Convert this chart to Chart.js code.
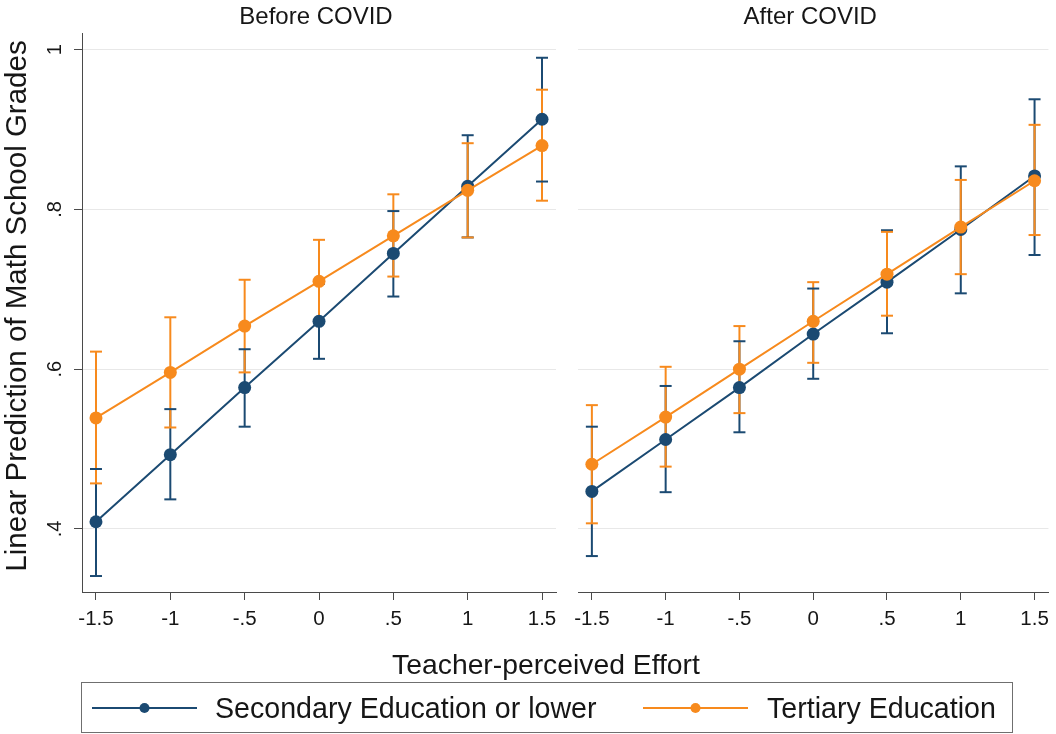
<!DOCTYPE html>
<html>
<head>
<meta charset="utf-8">
<script src="https://cdn.jsdelivr.net/npm/chart.js@4/dist/chart.umd.min.js"></script>
<style>
  html, body { margin: 0; padding: 0; background: #fff; }
  #wrap { position: relative; width: 1056px; height: 734px; overflow: hidden; background: #fff; }
  canvas { position: absolute; top: 0; }
  #panelBefore { left: 0; }
  #panelAfter { left: 566px; }
</style>
</head>
<body>
<div id="wrap">
  <canvas id="panelBefore" width="1056" height="734"></canvas>
  <canvas id="panelAfter" width="490" height="734"></canvas>
</div>
<script>
// Categories and tick labels
const effort = [-1.5, -1, -0.5, 0, 0.5, 1, 1.5];
const effortTickLabels = ['-1.5', '-1', '-.5', '0', '.5', '1', '1.5'];
const gradeTicks = [0.4, 0.6, 0.8, 1.0];
const gradeTickLabels = ['.4', '.6', '.8', '1'];
const seriesNames = ['Secondary Education or lower', 'Tertiary Education'];
const panelTitles = ['Before COVID', 'After COVID'];
const xTitle = 'Teacher-perceived Effort';
const yTitle = 'Linear Prediction of Math School Grades';

// Before COVID: predicted grades with 95% confidence bounds
const secBefore   = [0.409, 0.493, 0.577, 0.660, 0.745, 0.829, 0.913];
const secBeforeLo = [0.341, 0.437, 0.528, 0.613, 0.691, 0.765, 0.835];
const secBeforeHi = [0.475, 0.550, 0.625, 0.707, 0.798, 0.893, 0.990];
const terBefore   = [0.539, 0.596, 0.654, 0.710, 0.767, 0.824, 0.880];
const terBeforeLo = [0.457, 0.527, 0.596, 0.658, 0.716, 0.765, 0.811];
const terBeforeHi = [0.622, 0.665, 0.712, 0.762, 0.819, 0.883, 0.950];

// After COVID
const secAfter   = [0.447, 0.512, 0.577, 0.644, 0.709, 0.775, 0.842];
const secAfterLo = [0.366, 0.446, 0.521, 0.588, 0.645, 0.695, 0.743];
const secAfterHi = [0.528, 0.579, 0.635, 0.701, 0.774, 0.854, 0.938];
const terAfter   = [0.481, 0.540, 0.600, 0.660, 0.719, 0.778, 0.836];
const terAfterLo = [0.407, 0.478, 0.545, 0.608, 0.667, 0.719, 0.768];
const terAfterHi = [0.555, 0.603, 0.654, 0.709, 0.772, 0.837, 0.906];

const BLUE = '#1b4a72';
const ORANGE = '#f78a1d';
const AXIS = '#4a4a4a';
const GRID = '#e8e8e8';
const TEXT = '#161616';
const FONT = "'Liberation Sans', Arial, sans-serif";

const X_MIN = -1.594, X_MAX = 1.594;
const Y_MIN = 0.321, Y_MAX = 1.021;

function makeDataset(label, values, lo, hi, color, order) {
  return {
    label,
    data: effort.map((x, i) => ({ x, y: values[i] })),
    ciLow: lo,
    ciHigh: hi,
    borderColor: color,
    backgroundColor: color,
    borderWidth: 2,
    pointRadius: 6.5,
    pointBorderWidth: 0,
    pointBackgroundColor: color,
    tension: 0,
    order
  };
}

// Confidence-interval spikes with caps, drawn under the connected lines
const errorBars = {
  id: 'errorBars',
  beforeDatasetsDraw(chart) {
    const { ctx, scales: { x, y } } = chart;
    const sets = chart.data.datasets;
    const half = 6;
    ctx.save();
    ctx.lineWidth = 2;
    sets.forEach(ds => {
      ctx.strokeStyle = ds.borderColor;
      ds.data.forEach((p, i) => {
        const px = x.getPixelForValue(p.x);
        ctx.beginPath();
        ctx.moveTo(px, y.getPixelForValue(ds.ciLow[i]));
        ctx.lineTo(px, y.getPixelForValue(ds.ciHigh[i]));
        ctx.stroke();
      });
    });
    sets.forEach(ds => {
      ctx.strokeStyle = ds.borderColor;
      ds.data.forEach((p, i) => {
        const px = x.getPixelForValue(p.x);
        [ds.ciLow[i], ds.ciHigh[i]].forEach(v => {
          const py = y.getPixelForValue(v);
          ctx.beginPath();
          ctx.moveTo(px - half, py);
          ctx.lineTo(px + half, py);
          ctx.stroke();
        });
      });
    });
    ctx.restore();
  }
};

// Panel heading centred over the plot area
const panelHeading = {
  id: 'panelHeading',
  afterDraw(chart, args, opts) {
    const { ctx, chartArea } = chart;
    ctx.save();
    ctx.fillStyle = TEXT;
    ctx.font = `24px ${FONT}`;
    ctx.textAlign = 'center';
    ctx.textBaseline = 'alphabetic';
    ctx.fillText(opts.text, (chartArea.left + chartArea.right) / 2 - 3, 24);
    ctx.restore();
  }
};

// Shared furniture: rotated y tick labels, axis titles and the legend
const sharedFurniture = {
  id: 'sharedFurniture',
  afterDraw(chart) {
    const { ctx, scales: { y } } = chart;
    ctx.save();
    ctx.fillStyle = TEXT;

    // y tick labels, read bottom-to-top
    ctx.font = `20px ${FONT}`;
    ctx.textAlign = 'center';
    ctx.textBaseline = 'alphabetic';
    gradeTicks.forEach((v, i) => {
      ctx.save();
      ctx.translate(61, y.getPixelForValue(v));
      ctx.rotate(-Math.PI / 2);
      ctx.fillText(gradeTickLabels[i], 0, 0);
      ctx.restore();
    });

    // y axis title
    ctx.font = `29.5px ${FONT}`;
    ctx.save();
    ctx.translate(26, 306);
    ctx.rotate(-Math.PI / 2);
    ctx.fillText(yTitle, 0, 0);
    ctx.restore();

    // x axis title spanning both panels
    ctx.font = `28.3px ${FONT}`;
    ctx.fillText(xTitle, 546, 674);

    // legend
    ctx.strokeStyle = '#6f6f6f';
    ctx.lineWidth = 1;
    ctx.strokeRect(81.5, 682.5, 931, 50);
    const entries = [
      { name: seriesNames[0], color: BLUE, x0: 92, x1: 197, tx: 215 },
      { name: seriesNames[1], color: ORANGE, x0: 643, x1: 748, tx: 767 }
    ];
    const ly = 708;
    entries.forEach(e => {
      ctx.strokeStyle = e.color;
      ctx.lineWidth = 2;
      ctx.beginPath();
      ctx.moveTo(e.x0, ly);
      ctx.lineTo(e.x1, ly);
      ctx.stroke();
      ctx.fillStyle = e.color;
      ctx.beginPath();
      ctx.arc((e.x0 + e.x1) / 2, ly, 5, 0, Math.PI * 2);
      ctx.fill();
      ctx.fillStyle = TEXT;
      ctx.font = `28.6px ${FONT}`;
      ctx.textAlign = 'left';
      ctx.textBaseline = 'middle';
      ctx.fillText(e.name, e.tx, ly + 2);
    });
    ctx.restore();
  }
};

function xScale() {
  return {
    type: 'linear',
    min: X_MIN,
    max: X_MAX,
    afterBuildTicks: s => { s.ticks = effort.map(v => ({ value: v })); },
    afterFit: s => { s.height = 142; },
    ticks: {
      autoSkip: false,
      maxRotation: 0,
      padding: 7,
      color: TEXT,
      font: { family: FONT, size: 20.5 },
      callback: (v, i) => effortTickLabels[i]
    },
    grid: { drawOnChartArea: false, drawTicks: true, tickLength: 8, tickColor: AXIS, tickWidth: 1 },
    border: { display: true, color: AXIS, width: 1 }
  };
}

function yScale(withAxis) {
  return {
    type: 'linear',
    min: Y_MIN,
    max: Y_MAX,
    afterBuildTicks: s => { s.ticks = gradeTicks.map(v => ({ value: v })); },
    afterFit: s => { s.width = withAxis ? 82 : 0; },
    ticks: { display: false },
    grid: {
      color: GRID,
      lineWidth: 1,
      drawTicks: withAxis,
      tickLength: withAxis ? 8 : 0,
      tickColor: AXIS
    },
    border: { display: withAxis, color: AXIS, width: 1 }
  };
}

function panelConfig(title, datasets, padding, withAxis, extraPlugins) {
  return {
    type: 'line',
    data: { datasets },
    options: {
      responsive: false,
      animation: false,
      events: [],
      layout: { padding },
      scales: { x: xScale(), y: yScale(withAxis) },
      plugins: {
        legend: { display: false },
        tooltip: { enabled: false },
        panelHeading: { text: title }
      }
    },
    plugins: [errorBars, panelHeading].concat(extraPlugins)
  };
}

new Chart(document.getElementById('panelBefore'), panelConfig(
  panelTitles[0],
  [
    makeDataset(seriesNames[0], secBefore, secBeforeLo, secBeforeHi, BLUE, 2),
    makeDataset(seriesNames[1], terBefore, terBeforeLo, terBeforeHi, ORANGE, 1)
  ],
  { top: 33, left: 0, right: 500, bottom: 0 },
  true,
  [sharedFurniture]
));

new Chart(document.getElementById('panelAfter'), panelConfig(
  panelTitles[1],
  [
    makeDataset(seriesNames[0], secAfter, secAfterLo, secAfterHi, BLUE, 2),
    makeDataset(seriesNames[1], terAfter, terAfterLo, terAfterHi, ORANGE, 1)
  ],
  { top: 33, left: 12, right: 4, bottom: 0 },
  false,
  []
));
</script>
</body>
</html>
